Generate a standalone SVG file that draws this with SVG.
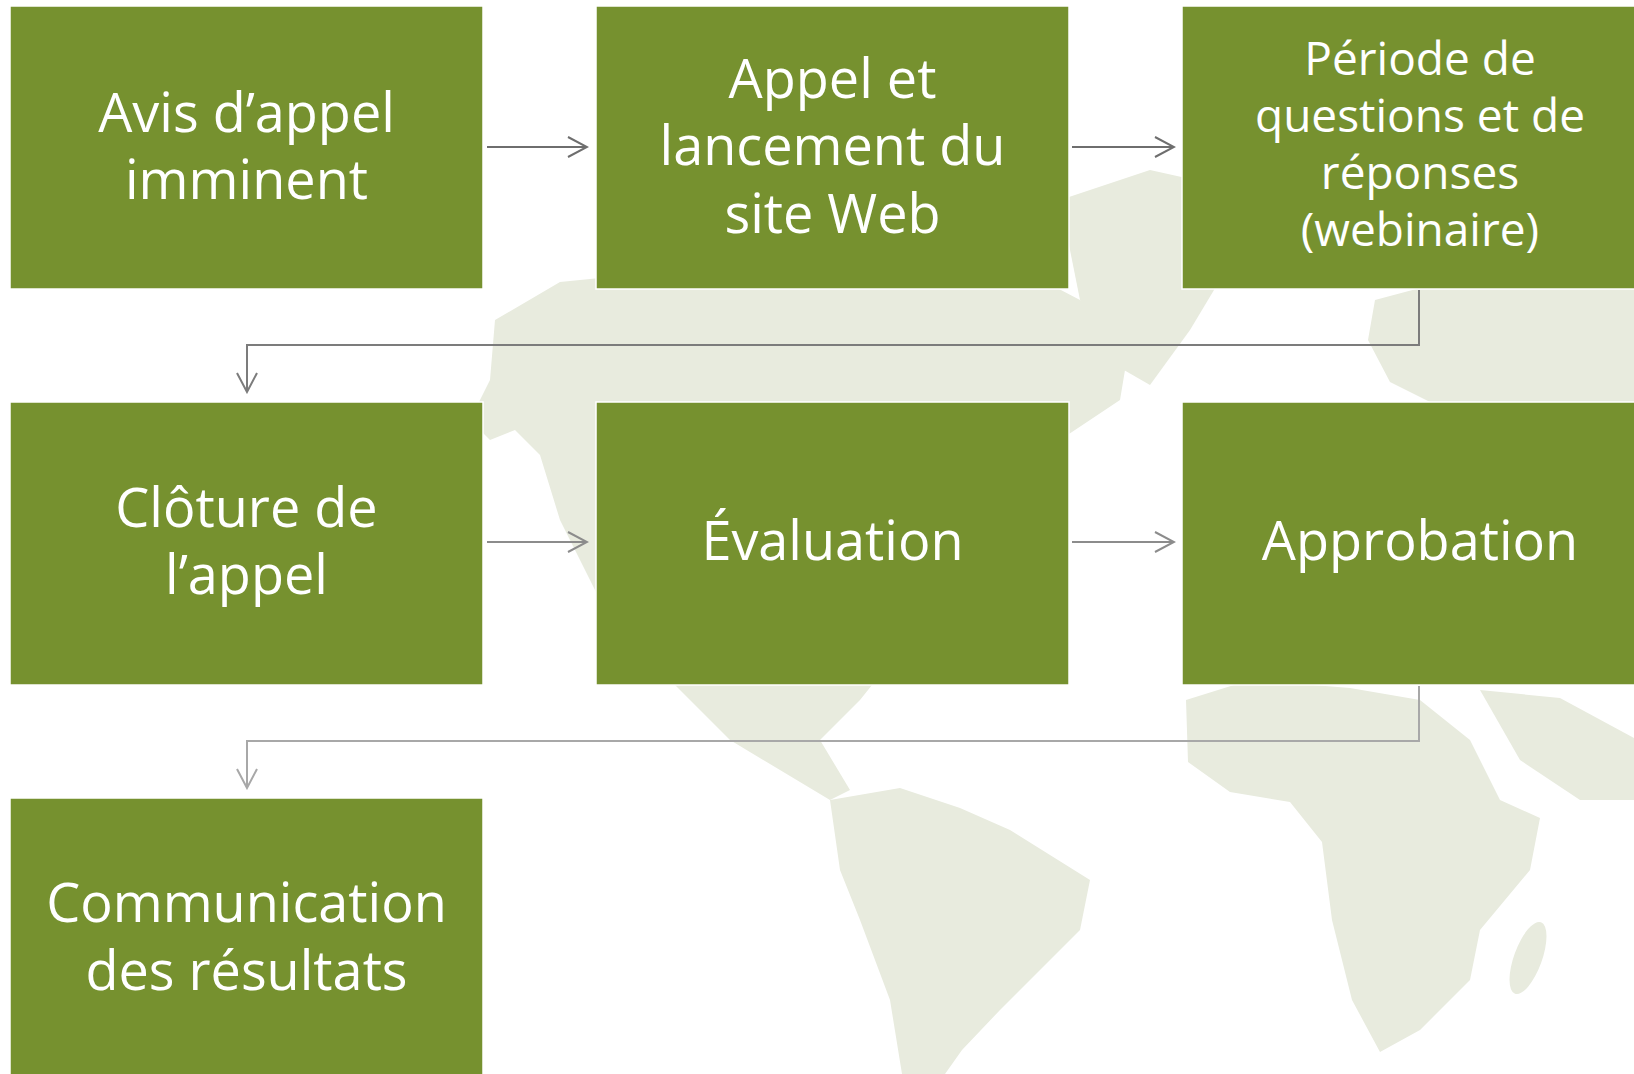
<svg xmlns="http://www.w3.org/2000/svg" width="1634" height="1074" viewBox="0 0 1634 1074">
<style>
.box{fill:#76912f;stroke:#ffffff;stroke-width:1.5}
.t{font-family:"Open Sans","Liberation Sans",sans-serif;font-size:54px;fill:#ffffff;text-anchor:middle}
.t.s{font-size:46px}
.map{fill:#e8ebde;stroke:none}
.c{fill:none;stroke-width:2}
</style>
<defs>
<marker id="a1" viewBox="0 0 22 22" refX="20" refY="11" markerWidth="22" markerHeight="22" markerUnits="userSpaceOnUse" orient="auto"><path d="M1,1 L20,11 L1,21" fill="none" stroke="#6e6e6e" stroke-width="2"/></marker>
<marker id="a2" viewBox="0 0 22 22" refX="20" refY="11" markerWidth="22" markerHeight="22" markerUnits="userSpaceOnUse" orient="auto"><path d="M1,1 L20,11 L1,21" fill="none" stroke="#7c7c7c" stroke-width="2"/></marker>
<marker id="a3" viewBox="0 0 22 22" refX="20" refY="11" markerWidth="22" markerHeight="22" markerUnits="userSpaceOnUse" orient="auto"><path d="M1,1 L20,11 L1,21" fill="none" stroke="#8c8c8c" stroke-width="2"/></marker>
<marker id="a4" viewBox="0 0 22 22" refX="20" refY="11" markerWidth="22" markerHeight="22" markerUnits="userSpaceOnUse" orient="auto"><path d="M1,1 L20,11 L1,21" fill="none" stroke="#a8a8a8" stroke-width="2"/></marker>
</defs>
<rect width="1634" height="1074" fill="#ffffff"/>
<g id="map">
<path class="map" d="M470,420 L490,380 L495,320 L560,282 L700,268 L850,250 L1000,258 L1080,300 L1130,340 L1120,400 L1060,440 L1000,520 L960,600 L900,650 L860,700 L820,740 L850,790 L830,800 L780,770 L730,740 L690,700 L650,660 L600,600 L560,520 L540,455 L515,430 L490,440 Z"/>
<path class="map" d="M1060,200 L1150,170 L1240,190 L1232,260 L1190,330 L1150,385 L1110,362 L1080,300 Z"/>
<path class="map" d="M1375,300 L1450,280 L1550,268 L1634,260 L1634,420 L1560,410 L1500,402 L1430,402 L1390,382 L1368,340 Z"/>
<path class="map" d="M1186,700 L1250,680 L1350,688 L1420,700 L1470,740 L1500,800 L1540,818 L1530,870 L1480,930 L1470,980 L1420,1030 L1380,1052 L1352,1000 L1332,920 L1322,842 L1290,802 L1230,792 L1188,762 Z"/>
<path class="map" d="M1480,690 L1560,698 L1634,738 L1634,800 L1580,800 L1520,760 Z"/>
<ellipse class="map" cx="1528" cy="958" rx="14" ry="38" transform="rotate(20 1528 958)"/>
<path class="map" d="M830,800 L900,788 L960,808 L1010,830 L1090,880 L1080,930 L1040,970 L1000,1010 L962,1050 L945,1074 L902,1074 L890,1000 L860,920 L840,870 Z"/>
</g>
<g id="connectors">
<line class="c" x1="487" y1="147" x2="587" y2="147" stroke="#6e6e6e" marker-end="url(#a1)"/>
<line class="c" x1="1072" y1="147" x2="1174" y2="147" stroke="#6e6e6e" marker-end="url(#a1)"/>
<polyline class="c" points="1419,290 1419,345 247,345 247,392" stroke="#7c7c7c" marker-end="url(#a2)"/>
<line class="c" x1="487" y1="542" x2="587" y2="542" stroke="#8c8c8c" marker-end="url(#a3)"/>
<line class="c" x1="1072" y1="542" x2="1174" y2="542" stroke="#8c8c8c" marker-end="url(#a3)"/>
<polyline class="c" points="1419,686 1419,741 247,741 247,788" stroke="#a8a8a8" marker-end="url(#a4)"/>
</g>
<g id="n1"><rect class="box" x="10" y="6" width="473" height="283"/><text class="t" x="246.5" y="131.7">Avis d’appel</text><text class="t" x="246.5" y="199">imminent</text></g>
<g id="n2"><rect class="box" x="596" y="6" width="473" height="283"/><text class="t" x="832.5" y="97.8">Appel et</text><text class="t" x="832.5" y="165.3">lancement du</text><text class="t" x="832.5" y="232.8">site Web</text></g>
<g id="n3"><rect class="box" x="1182" y="6" width="480" height="283"/><text class="t s" x="1420" y="75">Période de</text><text class="t s" x="1420" y="132">questions et de</text><text class="t s" x="1420" y="189">réponses</text><text class="t s" x="1420" y="246">(webinaire)</text></g>
<g id="n4"><rect class="box" x="10" y="402" width="473" height="283"/><text class="t" x="246.5" y="527">Clôture de</text><text class="t" x="246.5" y="594">l’appel</text></g>
<g id="n5"><rect class="box" x="596" y="402" width="473" height="283"/><text class="t" x="832.5" y="560">Évaluation</text></g>
<g id="n6"><rect class="box" x="1182" y="402" width="480" height="283"/><text class="t" x="1420" y="560">Approbation</text></g>
<g id="n7"><rect class="box" x="10" y="798" width="473" height="283"/><text class="t" x="246.5" y="922">Communication</text><text class="t" x="246.5" y="990">des résultats</text></g>
</svg>
